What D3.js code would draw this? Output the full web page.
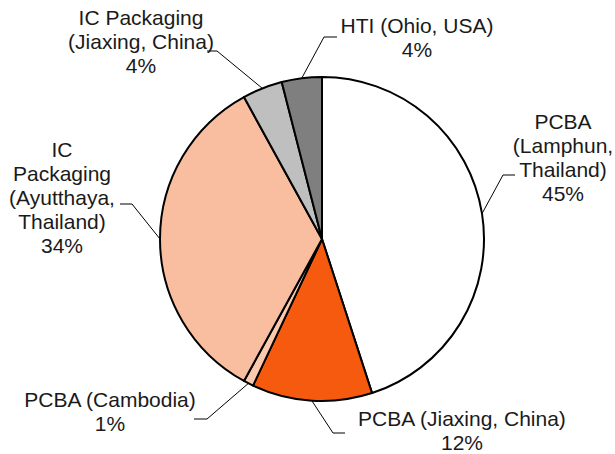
<!DOCTYPE html>
<html>
<head>
<meta charset="utf-8">
<script src="https://cdn.jsdelivr.net/npm/d3@7"></script>
<style>
  body { margin: 0; background: #fff; }
  text { font-family: "Liberation Sans", Arial, sans-serif; fill: #1a1a1a; }
</style>
</head>
<body>
<div id="chart"></div>
<script>
// Data (clockwise from 12 o'clock)
const sites = ["PCBA (Lamphun, Thailand)", "PCBA (Jiaxing, China)", "PCBA (Cambodia)",
  "IC Packaging (Ayutthaya, Thailand)", "IC Packaging (Jiaxing, China)", "HTI (Ohio, USA)"];
const shares = [45, 12, 1, 34, 4, 4];
const labelLines = [
  ["PCBA", "(Lamphun,", "Thailand)", "45%"],
  ["PCBA (Jiaxing, China)", "12%"],
  ["PCBA (Cambodia)", "1%"],
  ["IC", "Packaging", "(Ayutthaya,", "Thailand)", "34%"],
  ["IC Packaging", "(Jiaxing, China)", "4%"],
  ["HTI (Ohio, USA)", "4%"]
];
const sliceColors = ["#ffffff", "#f55a0e", "#fbc9ad", "#f9be9f", "#bfbfbf", "#7f7f7f"];

// label layout: text centre x, first baseline y, leader elbow and end
const labelPos = [
  { x: 563, y: 129, elbow: [503, 175], end: [515, 175] },
  { x: 462, y: 426, elbow: [333, 433], end: [345, 433] },
  { x: 110, y: 407, elbow: [207, 419], end: [194, 419] },
  { x: 62,  y: 157, elbow: [132, 204], end: [120, 204] },
  { x: 141, y: 25,  elbow: [217, 51],  end: [207, 51] },
  { x: 417, y: 33,  elbow: [324, 37],  end: [337, 37] }
];

const W = 615, H = 454;
const cx = 322, cy = 239, r = 162;
const lineStep = 24;

const svg = d3.select("#chart").append("svg")
    .attr("width", W)
    .attr("height", H);

const pie = d3.pie().sort(null).value(d => d);
const arcs = pie(shares);
const arc = d3.arc().innerRadius(0).outerRadius(r);

const g = svg.append("g").attr("transform", "translate(" + cx + "," + cy + ")");

g.selectAll("path.slice")
    .data(arcs)
    .enter().append("path")
    .attr("class", "slice")
    .attr("d", arc)
    .attr("fill", (d, i) => sliceColors[i])
    .attr("stroke", "#000")
    .attr("stroke-width", 2)
    .attr("stroke-linejoin", "round");

// leader lines
const line = d3.line();
arcs.forEach((a, i) => {
    const mid = (a.startAngle + a.endAngle) / 2;
    const start = [cx + r * Math.sin(mid), cy - r * Math.cos(mid)];
    svg.append("path")
        .attr("d", line([start, labelPos[i].elbow, labelPos[i].end]))
        .attr("fill", "none")
        .attr("stroke", "#000")
        .attr("stroke-width", 1);
});

// labels
labelLines.forEach((lines, i) => {
    const t = svg.append("text")
        .attr("text-anchor", "middle")
        .attr("font-size", "21px");
    lines.forEach((s, j) => {
        t.append("tspan")
            .attr("x", labelPos[i].x)
            .attr("y", labelPos[i].y + j * lineStep)
            .text(s);
    });
});
</script>
</body>
</html>
